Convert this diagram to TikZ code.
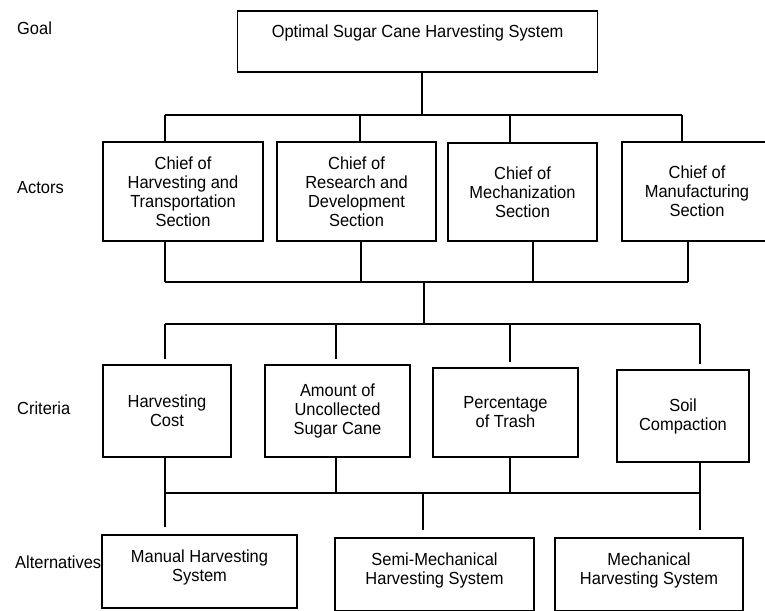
\documentclass[tikz,border=0pt]{standalone}
\usepackage{fontspec}
\setmainfont{Liberation Sans}[FakeStretch=0.94]
\usetikzlibrary{positioning}

\begin{document}
\begin{tikzpicture}[x=1pt,y=-1pt,font=\fontsize{17.5}{19}\selectfont,
   bx/.style={draw,line width=1.6pt,align=center,inner sep=0pt},
   txt/.style={align=center,inner sep=0pt},
   lvl/.style={anchor=west,inner sep=0pt},
   wire/.style={line width=1.3pt}]
  \useasboundingbox (0,0) rectangle (765,610);
  \clip (0,0) rectangle (765,610);
  % level names
  \node[lvl] (lgoal) at (17,28)  {Goal};
  \node[lvl] (lact)  at (17,188) {Actors};
  \node[lvl] (lcri)  at (17,408) {Criteria};
  \node[lvl] (lalt)  at (15,562) {Alternatives};
  % goal
  \node[bx,minimum width=360pt,minimum height=61pt] (goal) at (417.6,41.5) {};
  \node[txt,below=14.5pt of goal.north] (goaltxt) {Optimal Sugar Cane Harvesting System};
  % actors
  \node[bx,minimum width=160pt,minimum height=99pt] (a1) at (183,191.5)
       {Chief of\\Harvesting and\\Transportation\\Section};
  \node[bx,minimum width=159pt,minimum height=99pt] (a2) at (356.5,191.5)
       {Chief of\\Research and\\Development\\Section};
  \node[bx,minimum width=149pt,minimum height=98pt] (a3) at (522.5,192)
       {Chief of\\Mechanization\\Section};
  \node[bx,minimum width=150pt,minimum height=99pt] (a4) at (697,191.5)
       {Chief of\\Manufacturing\\Section};
  % criteria
  \node[bx,minimum width=128pt,minimum height=92pt] (c1) at (167,411) {Harvesting\\Cost};
  \node[bx,minimum width=145pt,minimum height=92pt] (c2) at (337.5,411)
       {Amount of\\Uncollected\\Sugar Cane};
  \node[bx,minimum width=145pt,minimum height=89pt] (c3) at (505.5,412.5) {Percentage\\of Trash};
  \node[bx,minimum width=132pt,minimum height=92pt] (c4) at (683,416) {Soil\\Compaction};
  % alternatives
  \node[bx,minimum width=195pt,minimum height=73pt] (l1) at (199.5,571.5) {};
  \node[bx,minimum width=199pt,minimum height=73pt] (l2) at (434.5,574.5) {};
  \node[bx,minimum width=188pt,minimum height=73pt] (l3) at (649,574.5) {};
  \node[txt,below=15.5pt of l1.north] (l1txt) {Manual Harvesting\\System};
  \node[txt,below=15.5pt of l2.north] (l2txt) {Semi-Mechanical\\Harvesting System};
  \node[txt,below=15.5pt of l3.north] (l3txt) {Mechanical\\Harvesting System};
  % goal to actors
  \coordinate (g1) at (422,115);
  \coordinate (p1) at (165,115); \coordinate (p2) at (360,115);
  \coordinate (p3) at (510,115); \coordinate (p4) at (682,115);
  \draw[wire] (goal.south -| g1) -- (g1);
  \draw[wire] (p1) -- (p4);
  \foreach \i in {1,...,4} \draw[wire] (p\i) -- (p\i |- a\i.north);
  % actors to criteria
  \coordinate (q1) at (165,282); \coordinate (q2) at (361,282);
  \coordinate (q3) at (533,282); \coordinate (q4) at (688,282);
  \draw[wire] (q1) -- (q4);
  \foreach \i in {1,...,4} \draw[wire] (q\i |- a\i.south) -- (q\i);
  \coordinate (m1) at (424,282); \coordinate (m2) at (424,324);
  \draw[wire] (m1) -- (m2);
  \coordinate (r1) at (165,324); \coordinate (r2) at (336,324);
  \coordinate (r3) at (510,324); \coordinate (r4) at (700,324);
  \draw[wire] (r1) -- (r4);
  \foreach \i in {1,...,4} \draw[wire,shorten >=5pt] (r\i) -- (r\i |- c\i.north);
  % criteria to alternatives
  \coordinate (s1) at (165,493); \coordinate (s2) at (336,493);
  \coordinate (s3) at (510,493); \coordinate (s4) at (700,493);
  \draw[wire] (s1) -- (s4);
  \foreach \i in {1,...,4} \draw[wire] (s\i |- c\i.south) -- (s\i);
  \coordinate (u1) at (165,493); \coordinate (u2) at (423,493); \coordinate (u3) at (700,493);
  \foreach \i in {1,...,3} \draw[wire,shorten >=7pt] (u\i) -- (u\i |- l\i.north);
\end{tikzpicture}
\end{document}
